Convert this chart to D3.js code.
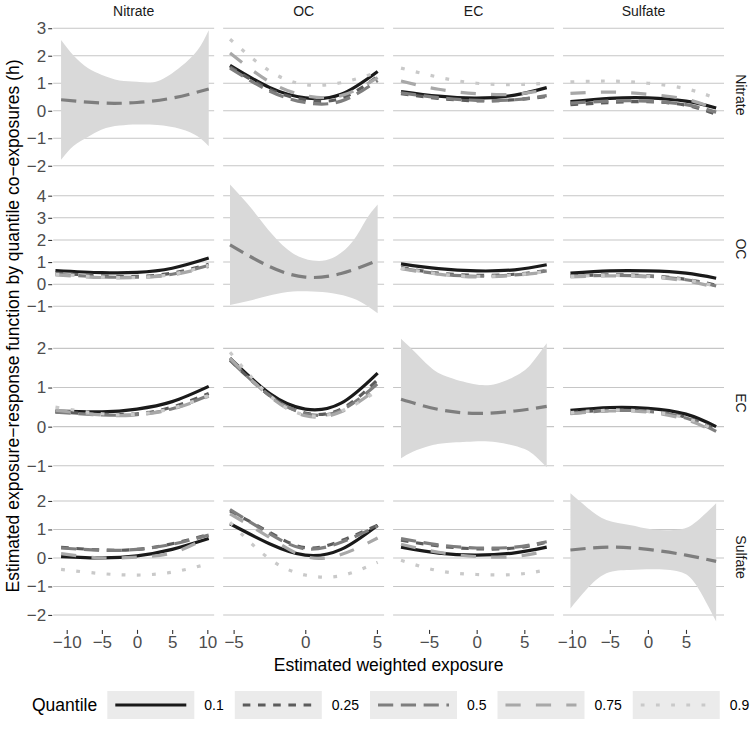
<!DOCTYPE html>
<html><head><meta charset="utf-8">
<script src="https://cdn.jsdelivr.net/npm/d3@7"></script>
<style>
body{margin:0;background:#fff}
svg{display:block}
text{font-family:"Liberation Sans",Arial,Helvetica,sans-serif}
</style>
</head><body>
<svg id="chart" width="750" height="737"></svg>
<script>
// ---------------- DATA ----------------
const rowVars = ["Nitrate", "OC", "EC", "Sulfate"];   // co-exposure held at quantiles (right strips)
const colVars = ["Nitrate", "OC", "EC", "Sulfate"];   // exposure on x axis (top strips)
const quantiles = ["0.1", "0.25", "0.5", "0.75", "0.9"];

const xTicksByCol = [[-10, -5, 0, 5, 10], [-5, 0, 5], [-5, 0, 5], [-10, -5, 0, 5]];
const yTicksByRow = [[-2, -1, 0, 1, 2, 3], [-1, 0, 1, 2, 3, 4], [-1, 0, 1, 2], [-2, -1, 0, 1, 2]];
const xDomainByCol = [[-11.92, 10.97], [-5.73, 5.5], [-8.77, 8.12], [-11.14, 9.99]];
const yDomainByRow = [[-2.03, 3.19], [-1.65, 4.84], [-1.23, 2.44], [-2.49, 2.55]];

// exposure grids
const xNitrate = [-10.8, -5, 0, 5, 10.2];
const xNitrateWide = [-11.6, -5, 0, 5, 10.2];
const xOC = [-5.25, -2.5, 0, 2.5, 5.05];
const xEC = [-7.94, -4, 0, 4, 7.35];
const xSulfate = [-10.17, -5, 0, 5, 8.96];

// off-diagonal panels: one list per quantile (0.1, 0.25, 0.5, 0.75, 0.9)
const hOC_byNitrate = [
  [1.65, 0.85, 0.47, 0.6, 1.43],
  [1.6, 0.78, 0.4, 0.45, 1.25],
  [1.55, 0.72, 0.3, 0.35, 1.1],
  [2.1, 1.05, 0.55, 0.55, 1.2],
  [2.6, 1.45, 0.95, 1.02, 1.4]];
const hEC_byNitrate = [
  [0.7, 0.53, 0.46, 0.57, 0.84],
  [0.62, 0.45, 0.36, 0.4, 0.52],
  [0.65, 0.48, 0.38, 0.4, 0.55],
  [1.08, 0.78, 0.62, 0.6, 0.78],
  [1.55, 1.22, 1.0, 0.95, 1.0]];
const hSulfate_byNitrate = [
  [0.33, 0.45, 0.47, 0.35, 0.1],
  [0.22, 0.3, 0.33, 0.2, -0.13],
  [0.28, 0.35, 0.35, 0.22, -0.05],
  [0.63, 0.68, 0.6, 0.42, 0.05],
  [1.05, 1.08, 1.0, 0.8, 0.45]];

const hNitrate_byOC = [
  [0.62, 0.52, 0.53, 0.72, 1.18],
  [0.5, 0.38, 0.35, 0.5, 0.9],
  [0.45, 0.33, 0.32, 0.45, 0.85],
  [0.42, 0.3, 0.3, 0.42, 0.8],
  [0.45, 0.33, 0.3, 0.45, 0.85]];
const hEC_byOC = [
  [0.92, 0.7, 0.6, 0.65, 0.88],
  [0.75, 0.5, 0.4, 0.45, 0.62],
  [0.72, 0.47, 0.36, 0.42, 0.6],
  [0.7, 0.45, 0.33, 0.4, 0.55],
  [0.72, 0.47, 0.35, 0.42, 0.58]];
const hSulfate_byOC = [
  [0.5, 0.6, 0.6, 0.5, 0.27],
  [0.38, 0.42, 0.38, 0.22, -0.05],
  [0.35, 0.4, 0.36, 0.2, -0.08],
  [0.33, 0.38, 0.33, 0.15, -0.15],
  [0.35, 0.4, 0.35, 0.2, -0.1]];

const hNitrate_byEC = [
  [0.4, 0.38, 0.45, 0.64, 1.03],
  [0.38, 0.32, 0.33, 0.5, 0.85],
  [0.37, 0.3, 0.31, 0.46, 0.8],
  [0.42, 0.3, 0.3, 0.45, 0.78],
  [0.5, 0.33, 0.32, 0.47, 0.8]];
const hOC_byEC = [
  [1.75, 0.85, 0.45, 0.6, 1.37],
  [1.7, 0.8, 0.35, 0.45, 1.2],
  [1.7, 0.8, 0.33, 0.42, 1.1],
  [1.75, 0.78, 0.28, 0.38, 0.98],
  [1.9, 0.8, 0.3, 0.4, 0.92]];
const hSulfate_byEC = [
  [0.42, 0.49, 0.47, 0.32, 0.0],
  [0.36, 0.42, 0.4, 0.24, -0.08],
  [0.34, 0.41, 0.39, 0.22, -0.12],
  [0.33, 0.4, 0.37, 0.18, -0.15],
  [0.36, 0.42, 0.39, 0.22, -0.1]];

const hNitrate_bySulfate = [
  [0.05, 0.0, 0.07, 0.3, 0.68],
  [0.37, 0.28, 0.3, 0.5, 0.82],
  [0.35, 0.27, 0.3, 0.48, 0.8],
  [0.15, 0.0, 0.03, 0.18, 0.75],
  [-0.4, -0.55, -0.6, -0.5, -0.2]];
const hOC_bySulfate = [
  [1.2, 0.5, 0.1, 0.3, 1.15],
  [1.65, 0.9, 0.36, 0.6, 1.15],
  [1.7, 0.85, 0.32, 0.55, 1.12],
  [1.55, 0.72, 0.05, 0.12, 0.7],
  [1.25, -0.03, -0.6, -0.62, -0.15]];
const hEC_bySulfate = [
  [0.38, 0.17, 0.1, 0.18, 0.38],
  [0.62, 0.42, 0.32, 0.35, 0.55],
  [0.68, 0.46, 0.35, 0.38, 0.57],
  [0.48, 0.2, 0.05, 0.05, 0.25],
  [-0.08, -0.45, -0.58, -0.58, -0.42]];

// diagonal panels: median (0.5) curve with credible band
const medNitrate = [0.4, 0.28, 0.3, 0.46, 0.79];
const bandNitrateX  = [-10.8, -9, -7, -5, -2.5, 0, 2.9, 6.2, 8.6, 10.2];
const bandNitrateLo = [-1.78, -1.27, -0.95, -0.68, -0.54, -0.5, -0.52, -0.66, -0.93, -1.29];
const bandNitrateHi = [2.57, 2.0, 1.55, 1.3, 1.1, 1.05, 1.07, 1.6, 2.2, 2.93];

const medOC = [1.78, 0.8, 0.32, 0.48, 1.07];
const bandOCX  = [-5.25, -3.68, -2.28, -0.88, 0.51, 1.9, 3.3, 4.23, 5.05];
const bandOCLo = [-0.94, -0.71, -0.48, -0.33, -0.33, -0.41, -0.63, -0.94, -1.31];
const bandOCHi = [4.5, 3.36, 2.23, 1.4, 1.07, 1.18, 1.93, 2.9, 3.6];

const medEC = [0.7, 0.44, 0.34, 0.4, 0.52];
const bandECX  = [-7.94, -6.7, -4.9, -3.15, -0.35, 2.1, 4.55, 5.9, 7.35];
const bandECLo = [-0.81, -0.64, -0.49, -0.42, -0.38, -0.4, -0.53, -0.7, -1.04];
const bandECHi = [2.25, 1.96, 1.53, 1.28, 1.09, 1.1, 1.36, 1.66, 2.13];

const medSulfate = [0.28, 0.38, 0.3, 0.1, -0.12];
const bandSulfateX  = [-10.17, -8.1, -5.45, -2.4, 0.66, 4.15, 6.34, 8.96];
const bandSulfateLo = [-1.77, -1.12, -0.54, -0.42, -0.4, -0.48, -0.95, -2.23];
const bandSulfateHi = [2.27, 1.8, 1.33, 1.16, 1.0, 1.0, 1.27, 1.92];

// ---------------- TABLES BUILT FROM THE ARRAYS ----------------
const offDiag = [
  {r: 0, c: 1, x: xOC, h: hOC_byNitrate},
  {r: 0, c: 2, x: xEC, h: hEC_byNitrate},
  {r: 0, c: 3, x: xSulfate, h: hSulfate_byNitrate},
  {r: 1, c: 0, x: xNitrateWide, h: hNitrate_byOC},
  {r: 1, c: 2, x: xEC, h: hEC_byOC},
  {r: 1, c: 3, x: xSulfate, h: hSulfate_byOC},
  {r: 2, c: 0, x: xNitrateWide, h: hNitrate_byEC},
  {r: 2, c: 1, x: xOC, h: hOC_byEC},
  {r: 2, c: 3, x: xSulfate, h: hSulfate_byEC},
  {r: 3, c: 0, x: xNitrate, h: hNitrate_bySulfate},
  {r: 3, c: 1, x: xOC, h: hOC_bySulfate},
  {r: 3, c: 2, x: xEC, h: hEC_bySulfate}];
const diag = [
  {k: 0, x: xNitrate, med: medNitrate, bx: bandNitrateX, lo: bandNitrateLo, hi: bandNitrateHi},
  {k: 1, x: xOC, med: medOC, bx: bandOCX, lo: bandOCLo, hi: bandOCHi},
  {k: 2, x: xEC, med: medEC, bx: bandECX, lo: bandECLo, hi: bandECHi},
  {k: 3, x: xSulfate, med: medSulfate, bx: bandSulfateX, lo: bandSulfateLo, hi: bandSulfateHi}];

// ---------------- LAYOUT & STYLE ----------------
const FONT = '"Liberation Sans",Arial,Helvetica,sans-serif';
const plotL = 53.2, plotR = 724, plotT = 23, plotB = 628.9;
const gapX = 9, gapY = 10.5;
const pw = (plotR - plotL - 3 * gapX) / 4;
const ph = (plotB - plotT - 3 * gapY) / 4;
const colX = i => plotL + i * (pw + gapX);
const rowY = i => plotT + i * (ph + gapY);

const lineColors = ["#1a1a1a", "#5c5c5c", "#7e7e7e", "#a8a8a8", "#c9c9c9"];
const U = 3.8;
const lineDash = [null, `${2*U},${2*U}`, `${4*U},${2*U}`, `${4*U},${4*U}`, `${1*U},${3*U}`];
const LW = 3.2;
const bandFill = "#d9d9d9";
const gridColor = "#c6c6c6";

const svg = d3.select("#chart");

const xScales = xDomainByCol.map((d, i) => d3.scaleLinear().domain(d).range([colX(i), colX(i) + pw]));
const yScales = yDomainByRow.map((d, i) => d3.scaleLinear().domain(d).range([rowY(i) + ph, rowY(i)]));

const defs = svg.append("defs");
for (let r = 0; r < 4; r++) for (let c = 0; c < 4; c++) {
  defs.append("clipPath").attr("id", `clip-${r}-${c}`)
    .append("rect").attr("x", colX(c)).attr("y", rowY(r)).attr("width", pw).attr("height", ph);
}

// grid lines
for (let r = 0; r < 4; r++) for (let c = 0; c < 4; c++) {
  svg.append("g").selectAll("line").data(yTicksByRow[r]).join("line")
    .attr("x1", colX(c)).attr("x2", colX(c) + pw)
    .attr("y1", d => yScales[r](d)).attr("y2", d => yScales[r](d))
    .attr("stroke", gridColor).attr("stroke-width", 1.1);
}

// diagonal panels
diag.forEach(p => {
  const xs = xScales[p.k], ys = yScales[p.k];
  const g = svg.append("g").attr("clip-path", `url(#clip-${p.k}-${p.k})`);
  const area = d3.area().curve(d3.curveNatural)
    .x((d, i) => xs(p.bx[i])).y0((d, i) => ys(p.lo[i])).y1((d, i) => ys(p.hi[i]));
  g.append("path").attr("d", area(p.bx)).attr("fill", bandFill);
  const line = d3.line().curve(d3.curveNatural).x((d, i) => xs(p.x[i])).y(d => ys(d));
  g.append("path").attr("d", line(p.med)).attr("fill", "none")
    .attr("stroke", lineColors[2]).attr("stroke-width", LW).attr("stroke-dasharray", lineDash[2]);
});

// off-diagonal panels
offDiag.forEach(p => {
  const xs = xScales[p.c], ys = yScales[p.r];
  const g = svg.append("g").attr("clip-path", `url(#clip-${p.r}-${p.c})`);
  const line = d3.line().curve(d3.curveNatural).x((d, i) => xs(p.x[i])).y(d => ys(d));
  p.h.forEach((vals, q) => {
    g.append("path").attr("d", line(vals)).attr("fill", "none")
      .attr("stroke", lineColors[q]).attr("stroke-width", LW)
      .attr("stroke-dasharray", lineDash[q]);
  });
});

// axes
function styleAxis(g) {
  g.select(".domain").remove();
  g.selectAll(".tick line").attr("stroke", "#333").attr("stroke-width", 1.1);
  g.selectAll(".tick text").attr("fill", "#4d4d4d").attr("font-size", 17).attr("font-family", FONT);
}
yScales.forEach((ys, r) => {
  svg.append("g").attr("transform", `translate(${plotL - 1},0)`)
    .call(d3.axisLeft(ys).tickValues(yTicksByRow[r]).tickSize(4).tickPadding(2).tickFormat(d3.format("d")))
    .call(styleAxis);
});
xScales.forEach((xs, c) => {
  svg.append("g").attr("transform", `translate(0,${plotB + 1})`)
    .call(d3.axisBottom(xs).tickValues(xTicksByCol[c]).tickSize(4).tickPadding(2).tickFormat(d3.format("d")))
    .call(styleAxis);
});

// strips
colVars.forEach((v, c) => {
  svg.append("text").attr("x", colX(c) + pw / 2).attr("y", 11).attr("text-anchor", "middle")
    .attr("dominant-baseline", "central").attr("font-size", 14).attr("fill", "#1a1a1a").text(v);
});
rowVars.forEach((v, r) => {
  svg.append("text").attr("transform", `translate(741,${rowY(r) + ph / 2}) rotate(90)`)
    .attr("text-anchor", "middle").attr("dominant-baseline", "central")
    .attr("font-size", 14).attr("fill", "#1a1a1a").text(v);
});

// axis titles
svg.append("text").attr("x", (plotL + plotR) / 2).attr("y", 665).attr("text-anchor", "middle")
  .attr("dominant-baseline", "central").attr("font-size", 17.5).attr("fill", "#000")
  .text("Estimated weighted exposure");
svg.append("text").attr("transform", `translate(13,${(plotT + plotB) / 2}) rotate(-90)`)
  .attr("text-anchor", "middle").attr("dominant-baseline", "central").attr("font-size", 17.5).attr("fill", "#000")
  .text("Estimated exposure\u2212response function by quantile co\u2212exposures (h)");

// legend
const legY = 705, keyW = 87, keyH = 28;
const leg = svg.append("g");
leg.append("text").attr("x", 32).attr("y", legY).attr("dominant-baseline", "central")
  .attr("font-size", 17.5).attr("fill", "#000").text("Quantile");
let lx = 107.3;
quantiles.forEach((q, i) => {
  leg.append("rect").attr("x", lx).attr("y", legY - keyH / 2).attr("width", keyW).attr("height", keyH)
    .attr("fill", "#ebebeb");
  leg.append("line").attr("x1", lx + 8).attr("x2", lx + keyW - 8).attr("y1", legY).attr("y2", legY)
    .attr("stroke", lineColors[i]).attr("stroke-width", LW).attr("stroke-dasharray", lineDash[i]);
  const t = leg.append("text").attr("x", lx + keyW + 10).attr("y", legY).attr("dominant-baseline", "central")
    .attr("font-size", 14).attr("fill", "#000").text(q);
  lx = lx + keyW + 10 + t.node().getComputedTextLength() + 11;
});
</script>
</body></html>
